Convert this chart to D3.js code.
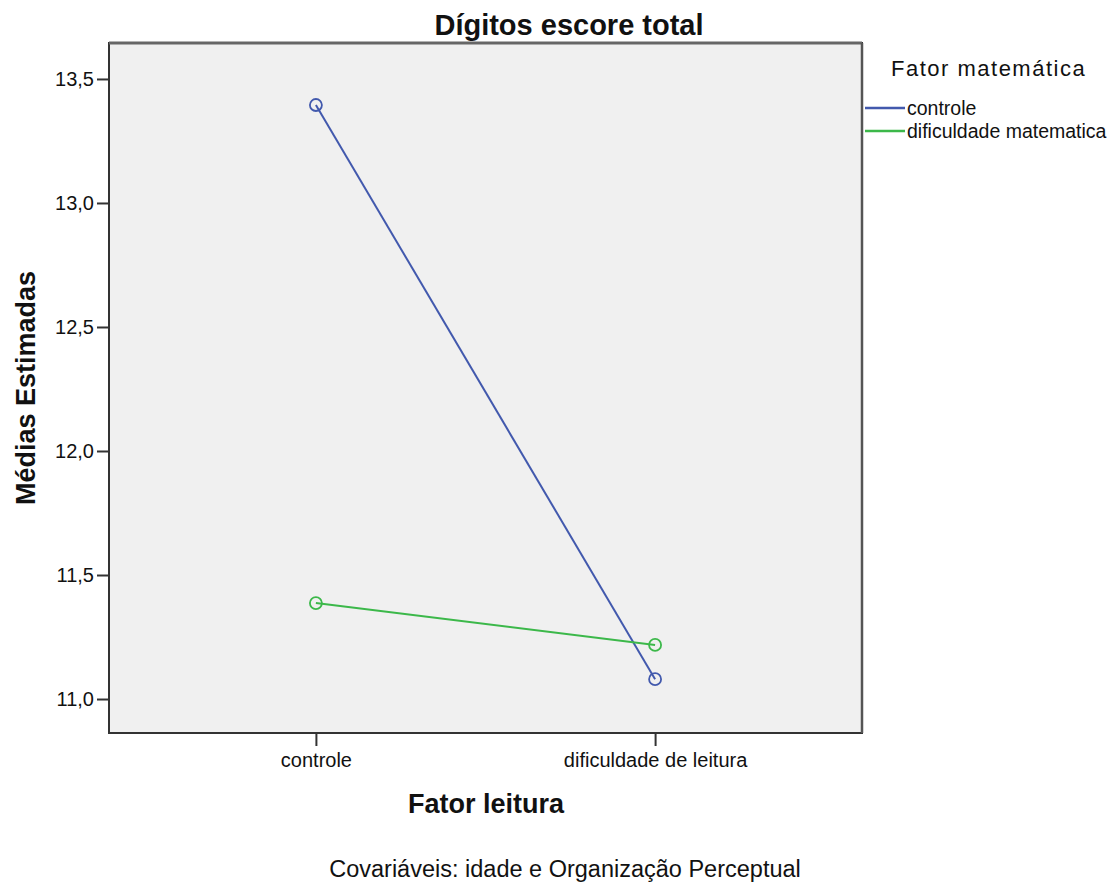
<!DOCTYPE html>
<html lang="pt">
<head>
  <meta charset="UTF-8" />
  <title>Dígitos escore total</title>
  <style>
    body {
      margin: 0;
      background: white;
      font-family: Arial, "Liberation Sans", sans-serif;
    }
    svg text { fill: #111; }
  </style>
</head>
<body>
  <svg width="1117" height="890"></svg>

  <script src="https://d3js.org/d3.v7.min.js"></script>
  <script>
    // data
    const leituraCats = ["controle", "dificuldade de leitura"];
    const seriesNames = ["controle", "dificuldade matematica"];
    const controleVals = [13.395, 11.08];
    const dificuldadeVals = [11.387, 11.218];
    const yTicks = [11.0, 11.5, 12.0, 12.5, 13.0, 13.5];
    const colors = ["#4259ad", "#3cb84a"];

    const series = [
      { name: seriesNames[0], values: controleVals, color: colors[0] },
      { name: seriesNames[1], values: dificuldadeVals, color: colors[1] }
    ];

    const svg = d3.select("svg");
    const margin = { top: 43, right: 255, bottom: 157, left: 109 };
    const innerWidth = 1117 - margin.left - margin.right;
    const innerHeight = 890 - margin.top - margin.bottom;

    const g = svg.append("g")
      .attr("transform", `translate(${margin.left},${margin.top})`);

    const x = d3.scalePoint()
      .domain(leituraCats)
      .range([0, innerWidth])
      .padding(0.61);

    const y = d3.scaleLinear()
      .domain([10.863, 13.645])
      .range([innerHeight, 0]);

    // plot background
    g.append("rect")
      .attr("width", innerWidth)
      .attr("height", innerHeight)
      .attr("fill", "#f0f0f0");

    const fmt = d => d3.format(".1f")(d).replace(".", ",");

    const yAxis = g.append("g")
      .call(d3.axisLeft(y).tickValues(yTicks).tickFormat(fmt).tickSize(12).tickPadding(3))
      .attr("font-size", 20)
      .attr("font-family", "Arial, 'Liberation Sans', sans-serif");
    yAxis.select(".domain").remove();
    yAxis.selectAll(".tick line").attr("stroke", "#333").attr("stroke-width", 2);
    yAxis.selectAll(".tick text").attr("fill", "#222");

    const xAxis = g.append("g")
      .attr("transform", `translate(0,${innerHeight})`)
      .call(d3.axisBottom(x).tickSize(13).tickPadding(7))
      .attr("font-size", 20)
      .attr("font-family", "Arial, 'Liberation Sans', sans-serif");
    xAxis.select(".domain").remove();
    xAxis.selectAll(".tick line").attr("stroke", "#333").attr("stroke-width", 2);
    xAxis.selectAll(".tick text").attr("fill", "#222");

    // frame
    g.append("rect")
      .attr("width", innerWidth)
      .attr("height", innerHeight)
      .attr("fill", "none")
      .attr("stroke", "#333")
      .attr("stroke-width", 2);
    g.append("line")
      .attr("x1", 0).attr("x2", innerWidth)
      .attr("y1", 0).attr("y2", 0)
      .attr("stroke", "#666").attr("stroke-width", 3);
    g.append("line")
      .attr("x1", innerWidth).attr("x2", innerWidth)
      .attr("y1", 0).attr("y2", innerHeight)
      .attr("stroke", "#555").attr("stroke-width", 2.5);

    const line = d3.line()
      .x((d, i) => x(leituraCats[i]))
      .y(d => y(d));

    series.forEach(s => {
      g.append("path")
        .datum(s.values)
        .attr("d", line)
        .attr("fill", "none")
        .attr("stroke", s.color)
        .attr("stroke-width", 2);

      g.selectAll(null)
        .data(s.values)
        .join("circle")
        .attr("cx", (d, i) => x(leituraCats[i]))
        .attr("cy", d => y(d))
        .attr("r", 6)
        .attr("fill", "none")
        .attr("stroke", s.color)
        .attr("stroke-width", 1.8);
    });

    // titles
    svg.append("text")
      .attr("x", 569).attr("y", 35)
      .attr("text-anchor", "middle")
      .style("font-size", "29px").style("font-weight", "bold")
      .text("Dígitos escore total");

    svg.append("text")
      .attr("x", 486).attr("y", 813)
      .attr("text-anchor", "middle")
      .style("font-size", "27px").style("font-weight", "bold")
      .text("Fator leitura");

    svg.append("text")
      .attr("transform", "translate(35,388) rotate(-90)")
      .attr("text-anchor", "middle")
      .style("font-size", "27px").style("font-weight", "bold")
      .text("Médias Estimadas");

    svg.append("text")
      .attr("x", 565).attr("y", 877)
      .attr("text-anchor", "middle")
      .style("font-size", "23.5px")
      .text("Covariáveis: idade e Organização Perceptual");

    // legend
    svg.append("text")
      .attr("x", 891).attr("y", 76)
      .style("font-size", "22px").style("letter-spacing", "1.5px")
      .text("Fator matemática");

    const legend = svg.append("g")
      .attr("transform", "translate(865,108)");
    const leg = legend.selectAll("g")
      .data(series)
      .join("g")
      .attr("transform", (d, i) => `translate(0,${i * 23})`);
    leg.append("line")
      .attr("x1", 0).attr("x2", 40)
      .attr("stroke", d => d.color)
      .attr("stroke-width", 2.5);
    leg.append("text")
      .attr("x", 42).attr("dy", "0.35em")
      .style("font-size", "19.5px")
      .text(d => d.name);
  </script>
</body>
</html>
